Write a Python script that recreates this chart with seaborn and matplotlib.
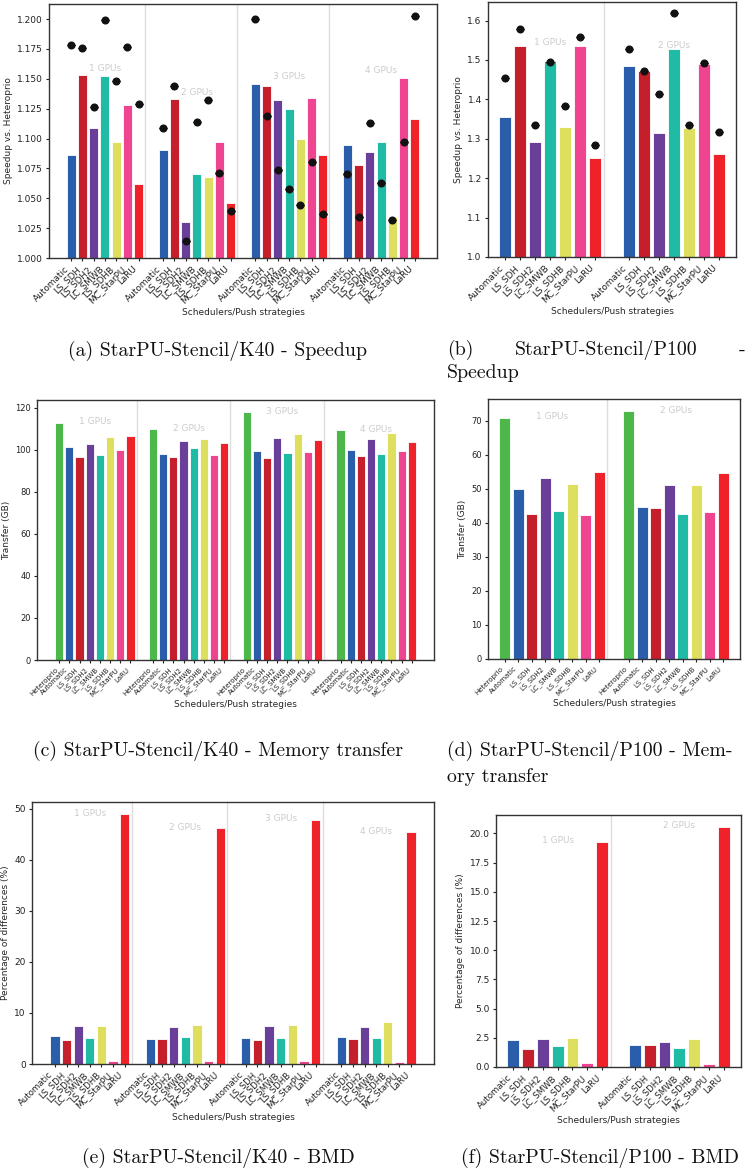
import numpy as np
import pandas as pd
import matplotlib
matplotlib.use("Agg")
import matplotlib.pyplot as plt
import seaborn as sns

# ---- data -------------------------------------------------------------
SCHEDS_ALL = ["Heteroprio", "Automatic", "LS_SDH", "LS_SDH2", "LC_SMWB",
              "LS_SDHB", "MC_StarPU", "LaRU"]
SCHEDS = SCHEDS_ALL[1:]

COLORS = {"Heteroprio": "#4cb84a", "Automatic": "#2a5eaa", "LS_SDH": "#c41f2b",
          "LS_SDH2": "#6a3f9a", "LC_SMWB": "#20bba5", "LS_SDHB": "#dfdf5f",
          "MC_StarPU": "#ef4490", "LaRU": "#ee2228"}

# speedup vs heteroprio, one row per GPU count
k40_speedup = [
    [1.086, 1.153, 1.109, 1.152, 1.097, 1.128, 1.062],
    [1.090, 1.133, 1.030, 1.070, 1.068, 1.097, 1.046],
    [1.146, 1.144, 1.132, 1.125, 1.100, 1.134, 1.086],
    [1.095, 1.078, 1.089, 1.097, 1.034, 1.151, 1.116],
]
k40_speedup_pts = [
    [1.178, 1.176, 1.126, 1.199, 1.148, 1.177, 1.129],
    [1.109, 1.144, 1.014, 1.114, 1.132, 1.071, 1.039],
    [1.200, 1.119, 1.074, 1.058, 1.044, 1.080, 1.037],
    [1.070, 1.034, 1.113, 1.063, 1.032, 1.097, 1.2025],
]
p100_speedup = [
    [1.355, 1.536, 1.292, 1.498, 1.330, 1.535, 1.250],
    [1.485, 1.473, 1.314, 1.528, 1.328, 1.490, 1.261],
]
p100_speedup_pts = [
    [1.453, 1.578, 1.336, 1.494, 1.384, 1.559, 1.283],
    [1.528, 1.471, 1.413, 1.620, 1.335, 1.491, 1.318],
]

# memory transfer (GB), Heteroprio included
k40_transfer = [
    [112.7, 101.5, 96.5, 102.7, 97.4, 106.2, 99.8, 106.5],
    [109.8, 98.2, 96.8, 104.1, 100.8, 105.1, 97.4, 103.3],
    [117.8, 99.3, 96.1, 105.5, 98.4, 107.4, 98.8, 104.6],
    [109.3, 99.9, 97.1, 105.1, 98.0, 108.1, 99.3, 103.6],
]
p100_transfer = [
    [71.0, 50.1, 42.7, 53.1, 43.6, 51.4, 42.3, 55.0],
    [72.8, 44.8, 44.3, 51.1, 42.5, 51.2, 43.2, 54.7],
]

# percentage of differences (BMD)
k40_bmd = [
    [5.4, 4.76, 7.44, 5.0, 7.5, 0.52, 48.9],
    [4.9, 4.95, 7.3, 5.28, 7.56, 0.65, 46.2],
    [5.0, 4.7, 7.5, 5.1, 7.7, 0.65, 47.8],
    [5.2, 4.9, 7.25, 5.0, 8.15, 0.45, 45.4],
]
p100_bmd = [
    [2.32, 1.52, 2.43, 1.78, 2.49, 0.32, 19.27],
    [1.86, 1.92, 2.12, 1.60, 2.40, 0.29, 20.55],
]

GAP = 1.2

sns.set_style("ticks")
plt.rcParams["font.family"] = ["DejaVu Sans"]

W, H = 750, 1169
fig = plt.figure(figsize=(W / 100, H / 100), dpi=100)


def px_axes(l, t, r, b):
    return fig.add_axes([l / W, 1 - b / H, (r - l) / W, (b - t) / H])


def draw(ax, values, scheds, pts=None, ylim=None, yticks=None, fmt=None,
         ylabel="", xfs=6.0, yfs=6.5):
    n = len(scheds)
    rows = []
    for g, vals in enumerate(values):
        for i, s in enumerate(scheds):
            rows.append(dict(pos=g * (n + GAP) + i, val=vals[i], sched=s, grp=g))
    df = pd.DataFrame(rows)
    sns.barplot(data=df, x="pos", y="val", hue="sched", hue_order=scheds,
                palette=[COLORS[s] for s in scheds], native_scale=True,
                dodge=False, errorbar=None, width=0.8, saturation=1,
                edgecolor="white", linewidth=0.6, legend=False, ax=ax)
    if pts is not None:
        yp = np.array(pts).ravel()
        ax.errorbar(df.pos, yp, yerr=np.zeros_like(yp), fmt="o", color="#111111",
                    ms=4.8, capsize=3, capthick=0.9, elinewidth=0.9, zorder=5)
    G = len(values)
    for g in range(G - 1):
        ax.axvline(g * (n + GAP) + n - 1 + GAP / 2, color="#dddddd", lw=1, zorder=0)
    for g in range(G):
        top = max(values[g])
        ax.text(g * (n + GAP) + (n - 1) / 2, top * 1.005, f"{g + 1} GPUs",
                ha="center", va="center", color="#cccccc", fontsize=6.5)
    last = df.pos.max()
    span = last + 0.8
    ax.set_xlim(-0.4 - 0.05 * span, last + 0.4 + 0.05 * span)
    if ylim is not None:
        ax.set_ylim(*ylim)
    else:
        ax.set_ylim(0, max(max(v) for v in values) * 1.05)
    if yticks is not None:
        ax.set_yticks(yticks)
    if fmt:
        ax.set_yticklabels([fmt % t for t in yticks])
    ax.set_xticks(df.pos)
    ax.set_xticklabels(df.sched, rotation=45, ha="right", fontsize=xfs)
    ax.tick_params(axis="y", labelsize=yfs)
    ax.tick_params(length=2.5, width=0.8, colors="#222222", pad=2)
    ax.set_xlabel("Schedulers/Push strategies", fontsize=6.5, labelpad=2)
    ax.set_ylabel(ylabel, fontsize=6.5, labelpad=3)
    for sp in ax.spines.values():
        sp.set_visible(True)
        sp.set_linewidth(1.0)
        sp.set_color("#333333")


ax_a = px_axes(49, 4, 437, 258)
draw(ax_a, k40_speedup, SCHEDS, pts=k40_speedup_pts, ylim=(1.0, 1.2126),
     yticks=np.arange(1.0, 1.2001, 0.025), fmt="%.3f",
     ylabel="Speedup vs. Heteroprio", xfs=6.4)

ax_b = px_axes(488, 2, 736, 257)
draw(ax_b, p100_speedup, SCHEDS, pts=p100_speedup_pts, ylim=(1.0, 1.647),
     yticks=np.arange(1.0, 1.601, 0.1), fmt="%.1f",
     ylabel="Speedup vs. Heteroprio", xfs=6.4)

ax_c = px_axes(37, 400, 434, 660)
draw(ax_c, k40_transfer, SCHEDS_ALL, yticks=np.arange(0, 121, 20), fmt="%d",
     ylabel="Transfer (GB)", xfs=5.0, yfs=6.0)

ax_d = px_axes(488, 399, 740, 659)
draw(ax_d, p100_transfer, SCHEDS_ALL, yticks=np.arange(0, 71, 10), fmt="%d",
     ylabel="Transfer (GB)", xfs=5.0, yfs=6.0)

ax_e = px_axes(32, 802, 434, 1064)
draw(ax_e, k40_bmd, SCHEDS, yticks=np.arange(0, 51, 10), fmt="%d",
     ylabel="Percentage of differences (%)", xfs=6.2)

ax_f = px_axes(496, 815, 741, 1067)
draw(ax_f, p100_bmd, SCHEDS, yticks=np.arange(0, 20.01, 2.5), fmt="%.1f",
     ylabel="Percentage of differences (%)", xfs=6.2)

# ---- captions ---------------------------------------------------------
cap = dict(family=["cmr10", "DejaVu Serif"], fontsize=14.3, color="#111111",
           va="center")


def ftext(x, y, s, **kw):
    fig.text(x / W, 1 - y / H, s, **{**cap, **kw})


ftext(218, 351, "(a) StarPU-Stencil/K40 - Speedup", ha="center")
ftext(447, 350, "(b)", ha="left")
ftext(606, 350, "StarPU-Stencil/P100", ha="center")
ftext(745, 350, "-", ha="right")
ftext(447, 373, "Speedup", ha="left")

ftext(218, 751, "(c) StarPU-Stencil/K40 - Memory transfer", ha="center")
ftext(447, 751, "(d) StarPU-Stencil/P100 - Mem-", ha="left")
ftext(447, 777, "ory transfer", ha="left")

ftext(218, 1158, "(e) StarPU-Stencil/K40 - BMD", ha="center")
ftext(600, 1158, "(f) StarPU-Stencil/P100 - BMD", ha="center")

fig.savefig("out.png", dpi=100)
